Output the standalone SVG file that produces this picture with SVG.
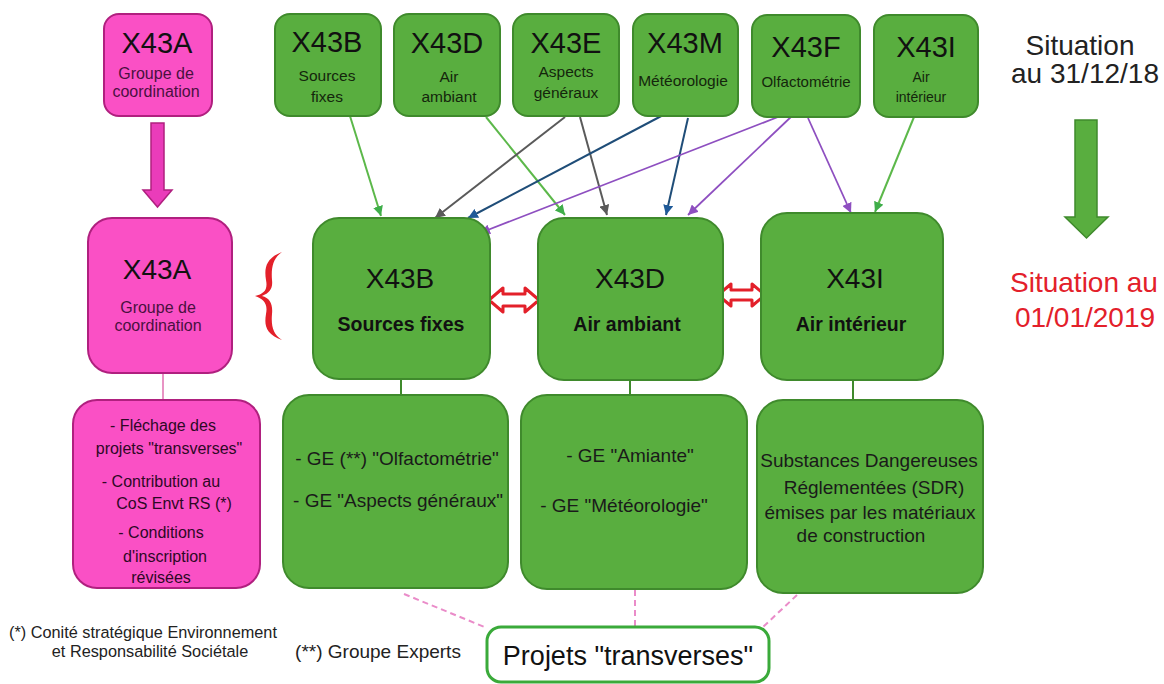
<svg xmlns="http://www.w3.org/2000/svg" width="1164" height="684" viewBox="0 0 1164 684">
<style>
text{font-family:"Liberation Sans",Arial,sans-serif;text-anchor:middle}
.g{fill:#59ae3f;stroke:#3f8a2c;stroke-width:2}
.p{fill:#fa50c5;stroke:#b0207f;stroke-width:2}
.big{font-size:29px;fill:#111}
.mid{font-size:28px;fill:#111}
.sub{font-size:15.5px;fill:#14260c}
.psub{font-size:16px;fill:#4a1040}
.bold{font-size:19.5px;font-weight:bold;fill:#111}
.body{font-size:19px;fill:#1a1a1a}
.ptxt{font-size:16px;fill:#2e0826}
.note{font-size:16.3px;fill:#222}
.sit{font-size:28px;fill:#222}
.red{font-size:28px;fill:#e3202a}
.cg{stroke:#5cb84a;stroke-width:2;fill:none}
.cy{stroke:#5a5a5a;stroke-width:2;fill:none}
.cb{stroke:#1f4d78;stroke-width:2;fill:none}
.cp{stroke:#8e4fc0;stroke-width:1.8;fill:none}
.dash{stroke:#ea8cc9;stroke-width:2;stroke-dasharray:6 4;fill:none}
</style>
<defs>
<marker id="ag" viewBox="0 0 10 10" refX="10" refY="5" markerWidth="10" markerHeight="10" markerUnits="userSpaceOnUse" orient="auto"><path d="M0,0 L10,5 L0,10 z" fill="#3fae4a"/></marker>
<marker id="ay" viewBox="0 0 10 10" refX="10" refY="5" markerWidth="10" markerHeight="10" markerUnits="userSpaceOnUse" orient="auto"><path d="M0,0 L10,5 L0,10 z" fill="#5a5a5a"/></marker>
<marker id="ab" viewBox="0 0 10 10" refX="10" refY="5" markerWidth="10" markerHeight="10" markerUnits="userSpaceOnUse" orient="auto"><path d="M0,0 L10,5 L0,10 z" fill="#1f5a98"/></marker>
<marker id="ap" viewBox="0 0 10 10" refX="10" refY="5" markerWidth="10" markerHeight="10" markerUnits="userSpaceOnUse" orient="auto"><path d="M0,0 L10,5 L0,10 z" fill="#8e4fc0"/></marker>
</defs>
<rect width="1164" height="684" fill="#fff"/>

<g id="connectors">
<line class="cg" x1="350" y1="116" x2="381" y2="216" marker-end="url(#ag)"/>
<line class="cg" x1="486" y1="117" x2="565" y2="215" marker-end="url(#ag)"/>
<line class="cg" x1="914" y1="117" x2="875" y2="212" marker-end="url(#ag)"/>
<line class="cy" x1="565" y1="117" x2="435" y2="218" marker-end="url(#ay)"/>
<line class="cy" x1="580" y1="117" x2="607" y2="215" marker-end="url(#ay)"/>
<line class="cb" x1="667" y1="113" x2="468" y2="218" marker-end="url(#ab)"/>
<line class="cb" x1="688" y1="118" x2="666" y2="215" marker-end="url(#ab)"/>
<line class="cp" x1="783" y1="115" x2="480" y2="233" marker-end="url(#ap)"/>
<line class="cp" x1="793" y1="115" x2="688" y2="215" marker-end="url(#ap)"/>
<line class="cp" x1="808" y1="118" x2="851" y2="213" marker-end="url(#ap)"/>
<line x1="163" y1="373" x2="163" y2="400" stroke="#e070b0" stroke-width="1.5"/>
<line x1="401" y1="379" x2="401" y2="395" stroke="#3f8a2c" stroke-width="2"/>
<line x1="630" y1="380" x2="630" y2="395" stroke="#3f8a2c" stroke-width="2"/>
<line x1="853" y1="380" x2="853" y2="400" stroke="#3f8a2c" stroke-width="2"/>
<line class="dash" x1="404" y1="594" x2="487" y2="628"/>
<line class="dash" x1="635" y1="590" x2="635" y2="627"/>
<line class="dash" x1="797" y1="595" x2="763" y2="627"/>
<polygon points="151,123 164,123 164,190 172,190 157.5,207 143,190 151,190" fill="#ea3cba" stroke="#b0207f" stroke-width="1.5"/>
<polygon points="1075,120 1097,120 1097,217 1108,217 1086.5,238 1065,217 1075,217" fill="#59ae3f" stroke="#3f8a2c" stroke-width="1.5"/>
<polygon points="489,300 503,288 503,294 525,294 525,288 539,300 525,312 525,306 503,306 503,312" fill="#fff" stroke="#e3202a" stroke-width="3" stroke-linejoin="round"/>
<polygon points="718,295 731,284 731,290 752,290 752,284 765,295 752,306 752,300 731,300 731,306" fill="#fff" stroke="#e3202a" stroke-width="3" stroke-linejoin="round"/>
<path d="M282,252 C266,258 264,268 266,280 C268,290 264,294 255,296 C264,299 268,304 266,314 C264,326 266,334 282,340 C273,334 271,326 272,314 C273,304 270,298 262,296 C270,293 273,288 272,280 C271,268 273,258 282,252 Z" fill="#e3202a"/>
</g>

<g id="top-X43A"><rect class="p" x="104" y="14" width="108" height="102" rx="15"/>
<text class="big" x="157" y="53">X43A</text><text class="psub" x="156" y="79">Groupe de</text><text class="psub" x="156" y="97">coordination</text></g>
<g id="top-X43B"><rect class="g" x="275" y="14" width="106" height="102" rx="15"/>
<text class="big" x="327" y="52">X43B</text><text class="sub" x="327" y="81">Sources</text><text class="sub" x="327" y="102">fixes</text></g>
<g id="top-X43D"><rect class="g" x="394" y="14" width="106" height="102" rx="15"/>
<text class="big" x="447" y="53">X43D</text><text class="sub" x="449" y="82">Air</text><text class="sub" x="449" y="102">ambiant</text></g>
<g id="top-X43E"><rect class="g" x="513" y="14" width="106" height="102" rx="15"/>
<text class="big" x="566" y="53">X43E</text><text class="sub" x="566" y="77">Aspects</text><text class="sub" x="566" y="98">généraux</text></g>
<g id="top-X43M"><rect class="g" x="633" y="14" width="105" height="102" rx="15"/>
<text class="big" x="685" y="53">X43M</text><text class="sub" x="683" y="86">Météorologie</text></g>
<g id="top-X43F"><rect class="g" x="752" y="15" width="108" height="102" rx="15"/>
<text class="big" x="806" y="57">X43F</text><text class="sub" x="806" y="87" style="font-size:15px">Olfactométrie</text></g>
<g id="top-X43I"><rect class="g" x="874" y="15" width="104" height="102" rx="15"/>
<text class="big" x="926" y="57">X43I</text><text class="sub" x="921" y="82" style="font-size:14px">Air</text><text class="sub" x="921" y="102" style="font-size:14px">intérieur</text></g>

<g id="label-situation-2018"><text class="sit" x="1080" y="55">Situation</text><text class="sit" x="1085" y="83">au 31/12/18</text></g>
<g id="label-situation-2019"><text class="red" x="1084" y="292">Situation au</text><text class="red" x="1085" y="327">01/01/2019</text></g>

<g id="mid-X43A"><rect class="p" x="88" y="218" width="144" height="155" rx="24"/>
<text class="mid" x="157" y="279">X43A</text><text class="psub" x="158" y="313">Groupe de</text><text class="psub" x="158" y="331">coordination</text></g>
<g id="mid-X43B"><rect class="g" x="313" y="218" width="177" height="161" rx="26"/>
<text class="mid" x="400" y="288">X43B</text><text class="bold" x="401" y="331">Sources fixes</text></g>
<g id="mid-X43D"><rect class="g" x="538" y="218" width="185" height="162" rx="26"/>
<text class="mid" x="630" y="288">X43D</text><text class="bold" x="627" y="331">Air ambiant</text></g>
<g id="mid-X43I"><rect class="g" x="761" y="213" width="182" height="167" rx="26"/>
<text class="mid" x="855" y="288">X43I</text><text class="bold" x="851" y="331">Air intérieur</text></g>

<g id="bottom-X43A"><rect class="p" x="73" y="400" width="187" height="188" rx="24"/>
<text class="ptxt" x="163" y="431">- Fléchage des</text>
<text class="ptxt" x="169" y="454">projets "transverses"</text>
<text class="ptxt" x="161" y="487">- Contribution au</text>
<text class="ptxt" x="174" y="509">CoS Envt RS (*)</text>
<text class="ptxt" x="161" y="538">- Conditions</text>
<text class="ptxt" x="165" y="562">d'inscription</text>
<text class="ptxt" x="161" y="583">révisées</text></g>
<g id="bottom-X43B"><rect class="g" x="283" y="395" width="225" height="193" rx="26"/>
<text class="body" x="397" y="465">- GE (**) "Olfactométrie"</text>
<text class="body" x="398" y="507">- GE "Aspects généraux"</text></g>
<g id="bottom-X43D"><rect class="g" x="521" y="395" width="226" height="194" rx="26"/>
<text class="body" x="630" y="462">- GE "Amiante"</text>
<text class="body" x="624" y="512">- GE "Météorologie"</text></g>
<g id="bottom-X43I"><rect class="g" x="757" y="400" width="226" height="193" rx="26"/>
<text class="body" x="869" y="467">Substances Dangereuses</text>
<text class="body" x="874" y="494">Réglementées (SDR)</text>
<text class="body" x="870" y="519">émises par les matériaux</text>
<text class="body" x="861" y="542">de construction</text></g>

<g id="projets"><rect x="487" y="627" width="282" height="55" rx="14" fill="#fff" stroke="#3aaa3a" stroke-width="3"/>
<text x="628" y="665" style="font-size:27px;fill:#111">Projets "transverses"</text></g>

<g id="notes">
<text class="note" x="143" y="638">(*) Conité stratégique Environnement</text>
<text class="note" x="150" y="657">et Responsabilité Sociétale</text>
<text x="378" y="658" style="font-size:19px;fill:#222">(**) Groupe Experts</text>
</g>
</svg>
